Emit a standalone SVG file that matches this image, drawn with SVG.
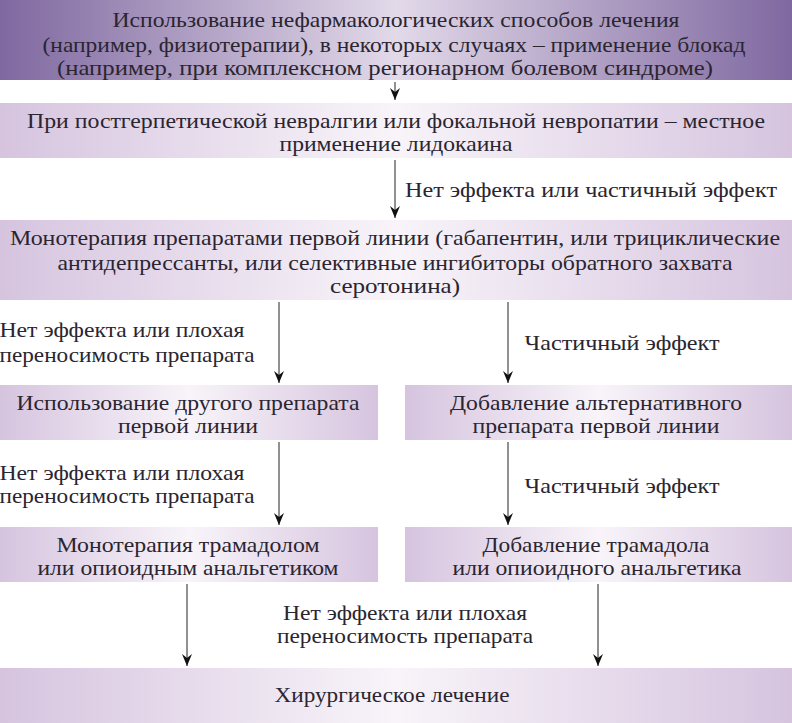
<svg xmlns="http://www.w3.org/2000/svg" width="792" height="723" viewBox="0 0 792 723">
<defs>
<linearGradient id="gd" x1="0" x2="1" y1="0" y2="0"><stop offset="0" stop-color="#7f68a0"/><stop offset="0.5" stop-color="#e2d9e9"/><stop offset="1" stop-color="#7f68a0"/></linearGradient>
<linearGradient id="gl" x1="0" x2="1" y1="0" y2="0"><stop offset="0" stop-color="#d6c4df"/><stop offset="0.5" stop-color="#f8f4f9"/><stop offset="1" stop-color="#d6c4df"/></linearGradient>
<marker id="a" viewBox="0 0 10 12" refX="5" refY="12" markerWidth="10" markerHeight="12" markerUnits="userSpaceOnUse" orient="0"><path d="M0,0 L5,4 L10,0 L5,12 Z" fill="#111"/></marker>
</defs>
<style>
text{font-family:"Liberation Serif",serif;font-size:21px;fill:#2a2530;text-anchor:middle}
.c line{stroke:#222;stroke-width:1;marker-end:url(#a)}
</style>
<rect width="792" height="723" fill="#fff"/>
<g id="n1"><rect x="0" y="0" width="792" height="80" fill="url(#gd)"/>
<text x="396" y="27" textLength="567" lengthAdjust="spacingAndGlyphs">Использование нефармакологических способов лечения</text>
<text x="394" y="52" textLength="703" lengthAdjust="spacingAndGlyphs">(например, физиотерапии), в некоторых случаях – применение блокад</text>
<text x="385" y="75" textLength="656" lengthAdjust="spacingAndGlyphs">(например, при комплексном регионарном болевом синдроме)</text></g>
<g id="n2"><rect x="0" y="103" width="792" height="55" fill="url(#gl)"/>
<text x="396" y="128" textLength="738" lengthAdjust="spacingAndGlyphs">При постгерпетической невралгии или фокальной невропатии – местное</text>
<text x="396" y="151" textLength="233" lengthAdjust="spacingAndGlyphs">применение лидокаина</text></g>
<g id="n3"><rect x="0" y="220" width="792" height="80" fill="url(#gl)"/>
<text x="395" y="245" textLength="770" lengthAdjust="spacingAndGlyphs">Монотерапия препаратами первой линии (габапентин, или трициклические</text>
<text x="395" y="270" textLength="675" lengthAdjust="spacingAndGlyphs">антидепрессанты, или селективные ингибиторы обратного захвата</text>
<text x="395" y="293" textLength="130" lengthAdjust="spacingAndGlyphs">серотонина)</text></g>
<g id="n4l"><rect x="0" y="385" width="378" height="55" fill="url(#gl)"/>
<text x="188" y="410" textLength="343" lengthAdjust="spacingAndGlyphs">Использование другого препарата</text>
<text x="188" y="433" textLength="140" lengthAdjust="spacingAndGlyphs">первой линии</text></g>
<g id="n4r"><rect x="405" y="385" width="387" height="55" fill="url(#gl)"/>
<text x="596" y="410" textLength="292" lengthAdjust="spacingAndGlyphs">Добавление альтернативного</text>
<text x="596" y="433" textLength="247" lengthAdjust="spacingAndGlyphs">препарата первой линии</text></g>
<g id="n5l"><rect x="0" y="527" width="378" height="55" fill="url(#gl)"/>
<text x="188" y="552" textLength="263" lengthAdjust="spacingAndGlyphs">Монотерапия трамадолом</text>
<text x="188" y="575" textLength="301" lengthAdjust="spacingAndGlyphs">или опиоидным анальгетиком</text></g>
<g id="n5r"><rect x="405" y="527" width="387" height="55" fill="url(#gl)"/>
<text x="596" y="552" textLength="227" lengthAdjust="spacingAndGlyphs">Добавление трамадола</text>
<text x="597" y="575" textLength="289" lengthAdjust="spacingAndGlyphs">или опиоидного анальгетика</text></g>
<g id="n6"><rect x="0" y="668" width="792" height="55" fill="url(#gl)"/>
<text x="392" y="702" textLength="235" lengthAdjust="spacingAndGlyphs">Хирургическое лечение</text></g>
<g class="c" id="connectors">
<line x1="395" y1="82" x2="395" y2="100"/>
<line x1="395" y1="160" x2="395" y2="218"/>
<line x1="279" y1="302" x2="279" y2="383"/>
<line x1="508" y1="302" x2="508" y2="383"/>
<line x1="279" y1="442" x2="279" y2="525"/>
<line x1="508" y1="442" x2="508" y2="525"/>
<line x1="187" y1="584" x2="187" y2="666"/>
<line x1="598" y1="584" x2="598" y2="666"/>
</g>
<g id="labels">
<text x="591" y="197" textLength="372" lengthAdjust="spacingAndGlyphs">Нет эффекта или частичный эффект</text>
<text x="122" y="337" textLength="245" lengthAdjust="spacingAndGlyphs">Нет эффекта или плохая</text>
<text x="127" y="362" textLength="255" lengthAdjust="spacingAndGlyphs">переносимость препарата</text>
<text x="622" y="350" textLength="195" lengthAdjust="spacingAndGlyphs">Частичный эффект</text>
<text x="122" y="480" textLength="245" lengthAdjust="spacingAndGlyphs">Нет эффекта или плохая</text>
<text x="127" y="503" textLength="255" lengthAdjust="spacingAndGlyphs">переносимость препарата</text>
<text x="622" y="493" textLength="195" lengthAdjust="spacingAndGlyphs">Частичный эффект</text>
<text x="405" y="620" textLength="244" lengthAdjust="spacingAndGlyphs">Нет эффекта или плохая</text>
<text x="405" y="643" textLength="256" lengthAdjust="spacingAndGlyphs">переносимость препарата</text>
</g>
</svg>
